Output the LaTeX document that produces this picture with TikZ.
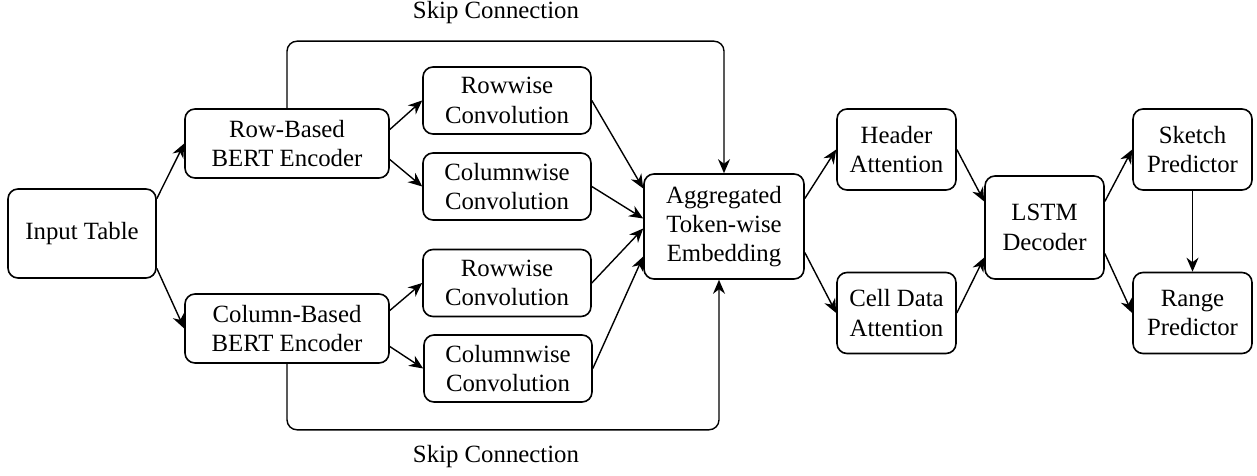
\documentclass[tikz,border=0pt]{standalone}
\usepackage{fontspec}
\setmainfont{Liberation Serif}
\usetikzlibrary{arrows.meta}

\begin{document}
\begin{tikzpicture}[x=0.5pt,y=-0.5pt,
    blk/.style={draw,line width=0.8pt,rounded corners=5pt,align=center,inner sep=0pt,
        font=\fontsize{12.4}{14.6}\selectfont},
    conv/.style={blk,minimum width=84pt,minimum height=33.5pt},
    small/.style={blk,minimum width=59.5pt,minimum height=40.5pt},
    arr/.style={-{Stealth[length=7pt,width=6pt]},line width=0.7pt},
    lbl/.style={font=\fontsize{12.4}{14.6}\selectfont}]
\useasboundingbox (0,0) rectangle (1257,476);
% encoders
\node[blk,minimum width=74pt,minimum height=44.5pt] (it) at (82,233.5) {Input Table};
\node[blk,minimum width=102pt,minimum height=34.5pt] (rb) at (287,143.5) {Row-Based\\BERT Encoder};
\node[blk,minimum width=102pt,minimum height=34.5pt] (cb) at (287,328.5) {Column-Based\\BERT Encoder};
% convolutions
\node[conv] (rw1) at (507,100.5) {Rowwise\\Convolution};
\node[conv] (cw1) at (507,186.5) {Columnwise\\Convolution};
\node[conv] (rw2) at (507,283) {Rowwise\\Convolution};
\node[conv] (cw2) at (508,368.5) {Columnwise\\Convolution};
\node[blk,minimum width=80pt,minimum height=52.5pt] (agg) at (724,226.5) {Aggregated\\Token-wise\\Embedding};
% decoder side
\node[small] (hd) at (896.5,149.5) {Header\\Attention};
\node[small] (cd) at (896.5,313) {Cell Data\\Attention};
\node[blk,minimum width=59.5pt,minimum height=51.5pt] (lstm) at (1044.5,227.5) {LSTM\\Decoder};
\node[small] (sk) at (1192.5,149.5) {Sketch\\Predictor};
\node[small] (rg) at (1192.5,313) {Range\\Predictor};
\node[lbl] (skip1) at (496,13) {Skip Connection};
\node[lbl] (skip2) at (496,457) {Skip Connection};

\draw[arr] (it.25) -- (rb.west);
\draw[arr] (it.-25) -- (cb.west);
\draw[arr] ([yshift=7pt]rb.east) -- (rw1.west);
\draw[arr] ([yshift=-8pt]rb.east) -- (cw1.west);
\draw[arr] ([yshift=9pt]cb.east) -- (rw2.west);
\draw[arr] ([yshift=-9pt]cb.east) -- (cw2.west);
\draw[arr] (rw1.east) -- ([yshift=19pt]agg.west);
\draw[arr] (cw1.east) -- ([yshift=4pt]agg.west);
\draw[arr] (rw2.east) -- ([yshift=-1pt]agg.west);
\draw[arr] (cw2.east) -- ([yshift=-15pt]agg.west);
\draw[arr] ([yshift=14pt]agg.east) -- (hd.west);
\draw[arr] ([yshift=-13pt]agg.east) -- (cd.west);
\draw[arr] (hd.east) -- ([yshift=13pt]lstm.west);
\draw[arr] (cd.east) -- ([yshift=-15pt]lstm.west);
\draw[arr] ([yshift=13pt]lstm.east) -- (sk.west);
\draw[arr] ([yshift=-13pt]lstm.east) -- (rg.west);
\draw[arr] (sk.south) -- (rg.north);
% skip connections
\draw[arr,rounded corners=5pt] (rb.north) -- ++(0,-67) -| (agg.north);
\draw[arr,rounded corners=5pt] (cb.south) -- ++(0,66) -| ([xshift=-2.5pt]agg.south);
\end{tikzpicture}
\end{document}
